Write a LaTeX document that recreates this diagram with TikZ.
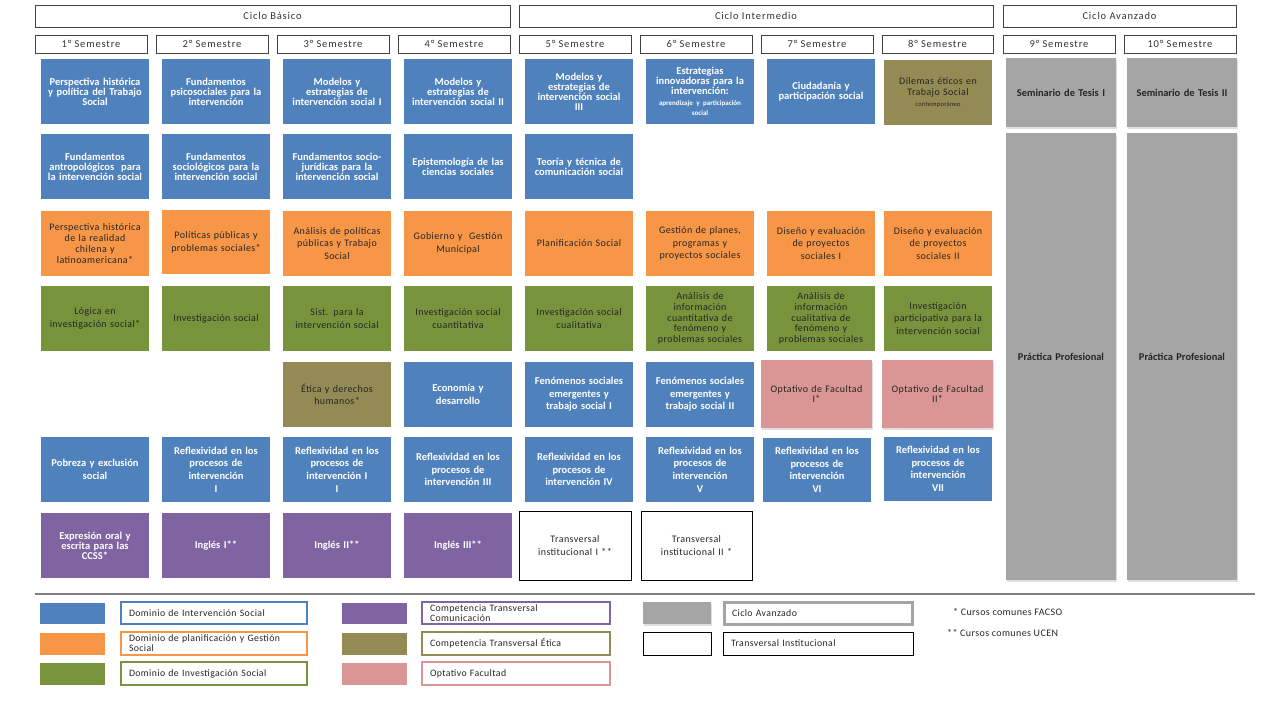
\documentclass[tikz,border=0pt]{standalone}
\usepackage{fontspec}
\setmainfont{Carlito}
\newfontfamily\spc[LetterSpace=4]{Carlito}
\newfontfamily\hspc[LetterSpace=8]{Carlito}
\usetikzlibrary{shadows}
\definecolor{cblue}{HTML}{4F81BD}
\definecolor{corange}{HTML}{F79646}
\definecolor{cgreen}{HTML}{77933C}
\definecolor{cpurple}{HTML}{8064A2}
\definecolor{colive}{HTML}{948A54}
\definecolor{cpink}{HTML}{D99694}
\definecolor{cgray}{HTML}{A5A5A5}
\definecolor{ctext}{HTML}{262626}
\tikzset{
  box/.style={inner sep=0pt, align=center, draw=none},
  cB/.style={fill=cblue, text=white},
  cO/.style={fill=corange, text=ctext},
  cG/.style={fill=cgreen, text=ctext},
  cP/.style={fill=cpurple, text=white},
  cE/.style={fill=colive, text=ctext},
  cR/.style={fill=cpink, text=ctext, drop shadow={shadow xshift=1pt, shadow yshift=-1.5pt, opacity=0.25}},
  cA/.style={fill=cgray, text=ctext, drop shadow={shadow xshift=1pt, shadow yshift=-1.5pt, opacity=0.25}},
  cW/.style={fill=white, draw=black, line width=0.8pt, text=ctext},
  fB/.style={font=\bfseries\fontsize{10.5}{10}\selectfont},
  fBL/.style={font=\bfseries\fontsize{10.5}{12.6}\selectfont},
  fO/.style={font=\spc\fontsize{10}{12.7}\selectfont},
  fOT/.style={font=\spc\fontsize{10}{10.8}\selectfont},
  fA/.style={font=\bfseries\fontsize{10.4}{11}\selectfont},
  hdr/.style={inner sep=0pt, align=center, draw=black!75, line width=0.7pt, fill=white, text=black!80, font=\hspc\fontsize{10.5}{11}\selectfont},
  swatch/.style={inner sep=0pt, draw=none},
  leg/.style={inner sep=0pt, align=left, fill=white, line width=2.4pt, text=ctext, font=\spc\fontsize{9.8}{10}\selectfont},
  foot/.style={inner sep=0pt, anchor=west, text=ctext, font=\spc\fontsize{10}{11}\selectfont},
}
\newcommand\crs[7]{%
  \pgfmathsetmacro\bw{#5-#3}\pgfmathsetmacro\bh{#6-#4}\pgfmathsetmacro\tw{#5-#3-4}%
  \pgfmathsetmacro\cx{(#3+#5)/2}\pgfmathsetmacro\cy{(#4+#6)/2}%
  \node[box,#2,minimum width=\bw pt,minimum height=\bh pt,text width=\tw pt] (#1) at (\cx,\cy) {#7};}
\newcommand\lgd[7]{%
  \pgfmathsetmacro\bw{#5-#3}\pgfmathsetmacro\bh{#6-#4}\pgfmathsetmacro\tw{#5-#3-16}%
  \pgfmathsetmacro\cx{(#3+#5)/2}\pgfmathsetmacro\cy{(#4+#6)/2}%
  \node[leg,#2,minimum width=\bw pt,minimum height=\bh pt,text width=\tw pt] (#1) at (\cx,\cy) {#7};}
\newcommand\hd[6]{%
  \pgfmathsetmacro\bw{#4-#2}\pgfmathsetmacro\bh{#5-#3}%
  \pgfmathsetmacro\cx{(#2+#4)/2}\pgfmathsetmacro\cy{(#3+#5)/2}%
  \node[hdr,minimum width=\bw pt,minimum height=\bh pt] (#1) at (\cx,\cy) {#6};}
\begin{document}
\begin{tikzpicture}[x=1pt,y=-1pt]
\useasboundingbox[fill=white] (0,0) rectangle (1280,720);
% cycles
\hd{cb}{35}{5}{510}{27}{Ciclo Básico}
\hd{ci}{519}{5}{993}{27}{Ciclo Intermedio}
\hd{ca}{1003}{5}{1236}{27}{Ciclo Avanzado}
% semesters
\hd{s1}{35}{35}{147}{53}{1° Semestre}
\hd{s2}{156}{35}{268}{53}{2° Semestre}
\hd{s3}{277}{35}{389}{53}{3° Semestre}
\hd{s4}{398}{35}{510}{53}{4° Semestre}
\hd{s5}{519}{35}{631}{53}{5° Semestre}
\hd{s6}{640}{35}{752}{53}{6° Semestre}
\hd{s7}{761}{35}{873}{53}{7° Semestre}
\hd{s8}{882}{35}{993}{53}{8° Semestre}
\hd{s9}{1003}{35}{1115}{53}{9° Semestre}
\hd{s10}{1124}{35}{1236}{53}{10° Semestre}
% column 1
\crs{a1}{cB,fB}{41}{59}{149}{124}{Perspectiva histórica\\y política del Trabajo\\Social}
\crs{a2}{cB,fB}{41}{134}{149}{199}{Fundamentos\\antropológicos\ \ para\\la intervención social}
\crs{a3}{cO,fOT}{41}{211}{149}{276}{Perspectiva histórica\\de la realidad\\chilena y\\latinoamericana*}
\crs{a4}{cG,fO}{41}{286}{149}{351}{Lógica en\\investigación social*}
\crs{a6}{cB,fBL}{41}{437}{149}{502}{Pobreza y exclusión\\social}
\crs{a7}{cP,fB}{41}{513}{149}{578}{Expresión oral y\\escrita para las\\CCSS*}
% column 2
\crs{b1}{cB,fB}{162}{59}{270}{124}{Fundamentos\\psicosociales para la\\intervención}
\crs{b2}{cB,fB}{162}{134}{270}{199}{Fundamentos\\sociológicos para la\\intervención social}
\crs{b3}{cO,fO}{162}{210}{270}{274}{Políticas públicas y\\problemas sociales*}
\crs{b4}{cG,fO}{162}{286}{270}{351}{Investigación social}
\crs{b6}{cB,fBL}{162}{437}{270}{502}{Reflexividad en los\\procesos de\\intervención\\I}
\crs{b7}{cP,fB}{162}{513}{270}{578}{Inglés I**}
% column 3
\crs{c1}{cB,fB}{283}{59}{391}{124}{Modelos y\\estrategias de\\intervención social I}
\crs{c2}{cB,fB}{283}{134}{391}{199}{Fundamentos socio-\\jurídicas para la\\intervención social}
\crs{c3}{cO,fO}{283}{211}{391}{276}{Análisis de políticas\\públicas y Trabajo\\Social}
\crs{c4}{cG,fO}{283}{286}{391}{351}{Sist. para la\\intervención social}
\crs{c5}{cE,fO}{283}{362}{391}{427}{Ética y derechos\\humanos*}
\crs{c6}{cB,fBL}{283}{437}{391}{502}{Reflexividad en los\\procesos de\\intervención I\\I}
\crs{c7}{cP,fB}{283}{513}{391}{578}{Inglés II**}
% column 4
\crs{d1}{cB,fB}{404}{59}{512}{124}{Modelos y\\estrategias de\\intervención social II}
\crs{d2}{cB,fB}{404}{134}{512}{199}{Epistemología de las\\ciencias sociales}
\crs{d3}{cO,fO}{404}{211}{512}{276}{Gobierno y\ \ Gestión\\Municipal}
\crs{d4}{cG,fO}{404}{286}{512}{351}{Investigación social\\cuantitativa}
\crs{d5}{cB,fBL}{404}{362}{512}{427}{Economía y\\desarrollo}
\crs{d6}{cB,fBL}{404}{437}{512}{502}{Reflexividad en los\\procesos de\\intervención III}
\crs{d7}{cP,fB}{404}{513}{512}{578}{Inglés III**}
% column 5
\crs{e1}{cB,fB}{525}{59}{633}{124}{Modelos y\\estrategias de\\intervención social\\III}
\crs{e2}{cB,fB}{525}{134}{633}{199}{Teoría y técnica de\\comunicación social}
\crs{e3}{cO,fO}{525}{211}{633}{276}{Planificación Social}
\crs{e4}{cG,fO}{525}{286}{633}{351}{Investigación social\\cualitativa}
\crs{e5}{cB,fBL}{525}{362}{633}{427}{Fenómenos sociales\\emergentes y\\trabajo social I}
\crs{e6}{cB,fBL}{525}{437}{633}{502}{Reflexividad en los\\procesos de\\intervención IV}
\crs{e7}{cW,fO}{519}{511}{631}{580}{Transversal\\institucional I **}
% column 6
\crs{f1}{cB,fB}{646}{59}{754}{124}{Estrategias\\innovadoras para la\\intervención:\\{\fontsize{7}{11}\selectfont aprendizaje y participación\\social}}
\crs{f3}{cO,fO}{646}{211}{754}{276}{Gestión de planes,\\programas y\\proyectos sociales}
\crs{f4}{cG,fOT}{646}{286}{754}{351}{Análisis de\\información\\cuantitativa de\\fenómeno y\\problemas sociales}
\crs{f5}{cB,fBL}{646}{362}{754}{427}{Fenómenos sociales\\emergentes y\\trabajo social II}
\crs{f6}{cB,fBL}{646}{437}{754}{502}{Reflexividad en los\\procesos de\\intervención\\V}
\crs{f7}{cW,fO}{641}{511}{752}{580}{Transversal\\institucional II *}
% column 7
\crs{g1}{cB,fB}{767}{59}{875}{124}{Ciudadanía y\\participación social}
\crs{g3}{cO,fO}{767}{211}{875}{276}{Diseño y evaluación\\de proyectos\\sociales I}
\crs{g4}{cG,fOT}{767}{286}{875}{351}{Análisis de\\información\\cualitativa de\\fenómeno y\\problemas sociales}
\crs{g5}{cR,fOT}{761}{360}{872}{428}{Optativo de Facultad\\I*}
\crs{g6}{cB,fBL}{763}{438}{871}{502}{Reflexividad en los\\procesos de\\intervención\\VI}
% column 8
\crs{h1}{cE,fOT}{884}{60}{992}{125}{Dilemas éticos en\\Trabajo Social\\{\fontsize{6.5}{9}\selectfont contemporáneo}}
\crs{h3}{cO,fO}{884}{211}{992}{276}{Diseño y evaluación\\de proyectos\\sociales II}
\crs{h4}{cG,fO}{884}{286}{992}{351}{Investigación\\participativa para la\\intervención social}
\crs{h5}{cR,fOT}{882}{360}{993}{428}{Optativo de Facultad\\II*}
\crs{h6}{cB,fBL}{884}{437}{992}{501}{Reflexividad en los\\procesos de\\intervención\\VII}
% columns 9 and 10
\crs{i1}{cA,fA}{1006}{58}{1116}{127}{Seminario de Tesis I}
\crs{i2}{cA,fA}{1006}{133}{1116}{580}{Práctica Profesional}
\crs{j1}{cA,fA}{1127}{58}{1237}{127}{Seminario de Tesis II}
\crs{j2}{cA,fA}{1127}{133}{1237}{580}{Práctica Profesional}
% separator
\coordinate (sepL) at (35,594);
\coordinate (sepR) at (1255,594);
\draw[black!50, line width=1.2pt] (sepL) -- (sepR);
% legend swatches
\crs{k1}{swatch,fill=cblue}{40}{603}{105}{624}{}
\crs{k2}{swatch,fill=corange}{40}{633}{105}{655}{}
\crs{k3}{swatch,fill=cgreen}{40}{663}{105}{685}{}
\crs{k4}{swatch,fill=cpurple}{342}{603}{407}{624}{}
\crs{k5}{swatch,fill=colive}{342}{633}{407}{655}{}
\crs{k6}{swatch,fill=cpink}{342}{663}{407}{685}{}
\crs{k7}{swatch,fill=cgray,drop shadow={shadow xshift=1pt, shadow yshift=-1.5pt, opacity=0.25}}{643}{602}{711}{624}{}
\crs{k8}{swatch,fill=white,draw=black,line width=0.8pt}{643}{632}{711}{655}{}
% legend labels
\lgd{l1}{draw=cblue}{121}{602}{307}{624}{Dominio de Intervención Social}
\lgd{l2}{draw=corange}{121}{632}{307}{655}{Dominio de planificación y Gestión\\Social}
\lgd{l3}{draw=cgreen}{121}{662}{307}{685}{Dominio de Investigación Social}
\lgd{l4}{draw=cpurple}{422}{602}{610}{624}{Competencia Transversal\\Comunicación}
\lgd{l5}{draw=colive}{422}{632}{610}{655}{Competencia Transversal Ética}
\lgd{l6}{draw=cpink}{422}{662}{610}{685}{Optativo Facultad}
\lgd{l7}{draw=cgray,line width=3pt}{724}{602}{912}{624}{Ciclo Avanzado}
\lgd{l8}{draw=black,line width=0.8pt}{723}{632}{913}{655}{Transversal Institucional}
% footnotes
\node[foot] (n1) at (953,612) {* Cursos comunes FACSO};
\node[foot] (n2) at (947,633) {** Cursos comunes UCEN};
\end{tikzpicture}
\end{document}
